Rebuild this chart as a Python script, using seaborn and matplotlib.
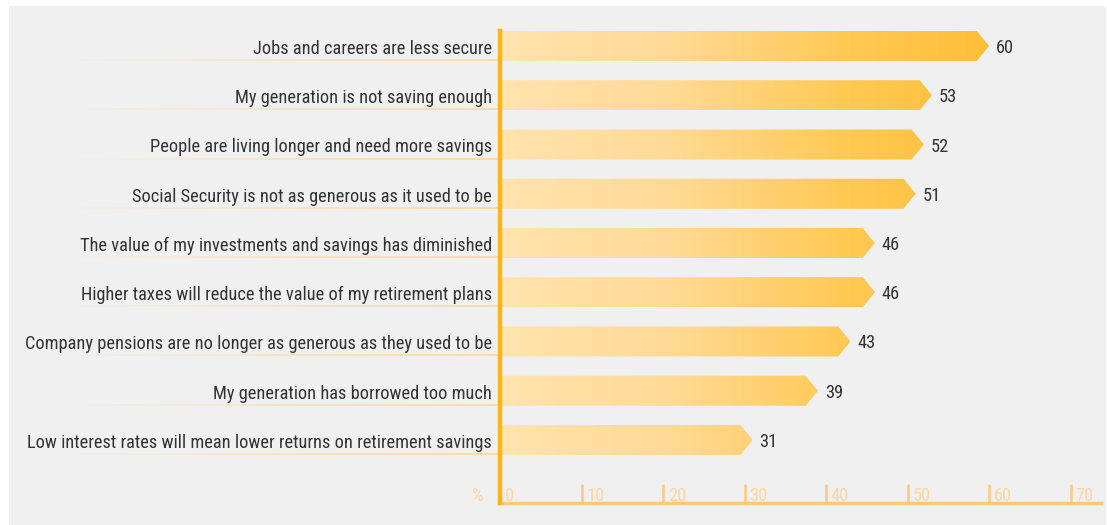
import numpy as np
import pandas as pd
import matplotlib
matplotlib.use("Agg")
import matplotlib.pyplot as plt
import seaborn as sns
from matplotlib.patches import Polygon, Rectangle
from matplotlib.colors import LinearSegmentedColormap
from matplotlib.collections import LineCollection

categories = [
    "Jobs and careers are less secure",
    "My generation is not saving enough",
    "People are living longer and need more savings",
    "Social Security is not as generous as it used to be",
    "The value of my investments and savings has diminished",
    "Higher taxes will reduce the value of my retirement plans",
    "Company pensions are no longer as generous as they used to be",
    "My generation has borrowed too much",
    "Low interest rates will mean lower returns on retirement savings",
]
values = [60, 53, 52, 51, 46, 46, 43, 39, 31]
xticks = [0, 10, 20, 30, 40, 50, 60, 70]
unit_label = "%"

sns.set_theme(style="white")
plt.rcParams["font.family"] = ["Roboto Condensed", "DejaVu Sans"]

W, H = 1107, 525
fig = plt.figure(figsize=(W / 100, H / 100), dpi=100, facecolor="white")
fig.patches.append(Rectangle((9 / W, 0), 1097 / W, 519 / H, transform=fig.transFigure,
                             facecolor="#f0f0f0", edgecolor="none", zorder=-10))

ax_left, ax_right = 500, 1101
ax_top, ax_bot = 31, 503
ax = fig.add_axes([ax_left / W, 1 - ax_bot / H, (ax_right - ax_left) / W, (ax_bot - ax_top) / H])
ax.set_facecolor("none")

df = pd.DataFrame({"reason": categories, "pct": values})
sns.barplot(data=df, x="pct", y="reason", orient="h", ax=ax, width=0.61,
            color="#ffc850", saturation=1)

xmax = (ax_right - ax_left) / 8.15
ymax, ymin = 9.28, -0.305
ax.set_xlim(0, xmax)
ax.set_ylim(ymax, ymin)

FS = 13.2
cmap = LinearSegmentedColormap.from_list("g", ["#ffe3ae", "#ffda96", "#ffca56", "#ffbd33"])
grad = np.linspace(0, 1, 256).reshape(1, -1)
head = 1.5
for p, v in zip(ax.patches, values):
    y0 = p.get_y()
    h = p.get_height()
    w = p.get_width()
    p.set_visible(False)
    poly = Polygon([(0.25, y0), (w - head, y0), (w, y0 + h / 2), (w - head, y0 + h), (0.25, y0 + h)],
                   closed=True, facecolor="none", edgecolor="none", transform=ax.transData)
    ax.add_patch(poly)
    im = ax.imshow(grad, extent=[0, 62, y0 + h, y0], aspect="auto", cmap=cmap,
                   interpolation="bilinear", zorder=2)
    im.set_clip_path(poly)
    ax.text(w + 0.85, y0 + h / 2, f"{v}", ha="left", va="center_baseline",
            fontsize=FS, color="#333333", zorder=5)

ax.set_xlim(0, xmax)
ax.set_ylim(ymax, ymin)

# y labels with underline
ax.set_yticks([])
ax.set_ylabel("")
ax.set_xlabel("")
for i, cat in enumerate(categories):
    ax.text(-8 / 8.15, i + 0.02, cat, ha="right", va="center_baseline", fontsize=FS,
            color="#333333", transform=ax.transData, clip_on=False)
    yline = i + 14 / 49.25
    xs = np.linspace(-470 / 8.15, 0, 80)
    segs = [[(xs[k], yline), (xs[k + 1], yline)] for k in range(len(xs) - 1)]
    alphas = np.clip(np.linspace(-0.1, 1, len(segs)), 0, 1) ** 0.8
    cols = [(1.0, 0.84, 0.6, a) for a in alphas]
    lc = LineCollection(segs, colors=cols, linewidths=1.2, clip_on=False, zorder=1)
    ax.add_collection(lc)

# spines
for s in ["top", "right"]:
    ax.spines[s].set_visible(False)
ax.spines["left"].set_color("#fdb515")
ax.spines["left"].set_linewidth(3.2)
ax.spines["left"].set_zorder(6)
ax.spines["bottom"].set_color("#ffc880")
ax.spines["bottom"].set_linewidth(2.5)

ax.set_xticks(xticks)
ax.set_xticklabels([])
ax.tick_params(axis="x", direction="in", length=14, width=1.8, color="#ffc880", bottom=True)
for t in xticks:
    ax.text(t + 0.6, ymax - 9 / 49.25, str(t), ha="left", va="center_baseline",
            fontsize=FS, color="#ffd6a0", zorder=5)
ax.text(-22 / 8.15, ymax - 9 / 49.25, unit_label, ha="center", va="center_baseline",
        fontsize=FS, color="#ffd6a0", clip_on=False)

fig.savefig("out.png", dpi=100, facecolor="white")
